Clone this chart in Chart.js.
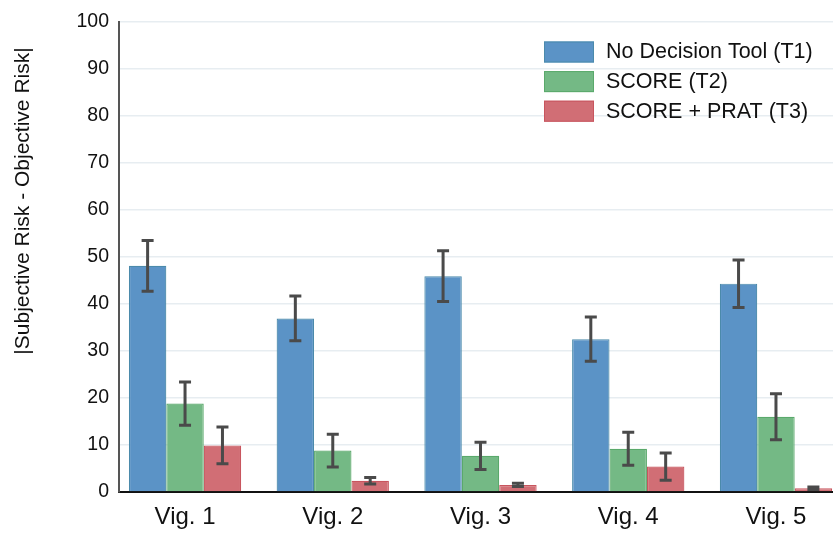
<!DOCTYPE html>
<html>
<head>
<meta charset="utf-8">
<script src="https://cdn.jsdelivr.net/npm/chart.js@4.4.1/dist/chart.umd.min.js"></script>
<style>
  html, body { margin: 0; padding: 0; background: #ffffff; overflow: hidden; }
  #wrap { width: 833px; height: 534px; }
</style>
</head>
<body>
<div id="wrap"><canvas id="chart" width="833" height="534"></canvas></div>
<script>
// Vignettes on the x axis
const categories = ['Vig. 1', 'Vig. 2', 'Vig. 3', 'Vig. 4', 'Vig. 5'];
const seriesNames = ['No Decision Tool (T1)', 'SCORE (T2)', 'SCORE + PRAT (T3)'];

// Mean absolute deviation per condition, with error half-widths
const t1Values = [48.1, 36.9, 45.9, 32.5, 44.3];
const t1Errors = [5.4, 4.75, 5.4, 4.7, 5.05];
const t2Values = [18.8, 8.8, 7.7, 9.2, 16.0];
const t2Errors = [4.6, 3.5, 2.9, 3.5, 4.9];
const t3Values = [9.9, 2.4, 1.5, 5.4, 0.8];
const t3Errors = [3.9, 0.7, 0.35, 2.9, 0.25];

const yTicks = [0, 10, 20, 30, 40, 50, 60, 70, 80, 90, 100];
const yTitle = '|Subjective Risk - Objective Risk|';

const fills = ['#5b93c6', '#74b985', '#d16e75'];
const borders = ['#4b8aab', '#5aa96b', '#c8555e'];
const valueSets = [t1Values, t2Values, t3Values];
const errorSets = [t1Errors, t2Errors, t3Errors];

const FONT = 'Liberation Sans, Arial, Helvetica, sans-serif';

const datasets = seriesNames.map((name, s) => ({
  label: name,
  data: valueSets[s].map((v, i) => ({ x: i + 1, y: v })),
  errors: errorSets[s],
  backgroundColor: fills[s],
  borderColor: borders[s],
  borderWidth: 1.2,
  categoryPercentage: 0.76,
  barPercentage: 1.0
}));

// Vertical error bars with flat caps
const errorBars = {
  id: 'errorBars',
  afterDatasetsDraw(chart) {
    const ctx = chart.ctx;
    const y = chart.scales.y;
    ctx.save();
    ctx.strokeStyle = '#4a4a4a';
    ctx.lineWidth = 3;
    ctx.lineCap = 'butt';
    chart.data.datasets.forEach((ds, di) => {
      const meta = chart.getDatasetMeta(di);
      meta.data.forEach((bar, i) => {
        const v = ds.data[i].y, e = ds.errors[i];
        const top = y.getPixelForValue(v + e);
        const bot = y.getPixelForValue(Math.max(0, v - e));
        const cap = 6;
        ctx.beginPath();
        ctx.moveTo(bar.x, top); ctx.lineTo(bar.x, bot);
        ctx.moveTo(bar.x - cap, top); ctx.lineTo(bar.x + cap, top);
        ctx.moveTo(bar.x - cap, bot); ctx.lineTo(bar.x + cap, bot);
        ctx.stroke();
      });
    });
    ctx.restore();
  }
};

// Legend inside the plot, top right, plus rotated y title
const overlay = {
  id: 'overlay',
  afterDraw(chart) {
    const ctx = chart.ctx;
    ctx.save();
    chart.data.datasets.forEach((ds, i) => {
      const top = 41.5 + i * 29.6;
      ctx.fillStyle = ds.backgroundColor;
      ctx.fillRect(544, top, 50, 21);
      ctx.strokeStyle = ds.borderColor;
      ctx.lineWidth = 1;
      ctx.strokeRect(544.5, top + 0.5, 49, 20);
      ctx.fillStyle = '#111111';
      ctx.font = '21.5px ' + FONT;
      ctx.textAlign = 'left';
      ctx.textBaseline = 'middle';
      ctx.fillText(ds.label, 606, top + 11);
    });
    ctx.translate(23, 201);
    ctx.rotate(-Math.PI / 2);
    ctx.fillStyle = '#111111';
    ctx.font = '21px ' + FONT;
    ctx.textAlign = 'center';
    ctx.textBaseline = 'middle';
    ctx.fillText(yTitle, 0, 0);
    ctx.restore();
  }
};

new Chart(document.getElementById('chart'), {
  type: 'bar',
  data: { datasets },
  options: {
    responsive: false,
    animation: false,
    layout: { padding: { top: 19, right: 0, left: 0, bottom: 0 } },
    plugins: { legend: { display: false }, tooltip: { enabled: false } },
    scales: {
      x: {
        type: 'linear',
        min: 0.553,
        max: 5.386,
        offset: false,
        afterFit: s => { s.height = 42; },
        afterBuildTicks: s => { s.ticks = categories.map((_, i) => ({ value: i + 1 })); },
        grid: { display: false, drawTicks: false },
        border: { display: true, color: '#111111', width: 2 },
        ticks: {
          autoSkip: false,
          maxRotation: 0,
          padding: 11,
          color: '#111111',
          font: { family: FONT, size: 24 },
          callback: v => categories[v - 1]
        }
      },
      y: {
        min: 0,
        max: 100,
        afterFit: s => { s.width = 119; },
        afterBuildTicks: s => { s.ticks = yTicks.map(v => ({ value: v })); },
        grid: { color: '#e7edf1', lineWidth: 1.5, drawTicks: false },
        border: { display: true, color: '#555555', width: 2 },
        ticks: {
          padding: 10,
          color: '#111111',
          font: { family: FONT, size: 19.5 }
        }
      }
    }
  },
  plugins: [errorBars, overlay]
});
</script>
</body>
</html>
